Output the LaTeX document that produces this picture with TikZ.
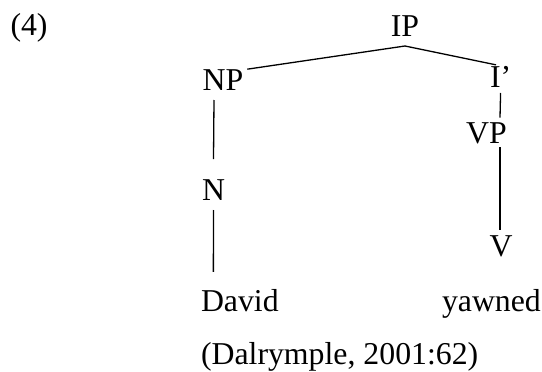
\documentclass[tikz,border=0pt]{standalone}
\usepackage{fontspec}
\setmainfont{Liberation Serif}
\begin{document}
\begin{tikzpicture}[x=1pt,y=-1pt,
  lbl/.style={inner sep=0pt,outer sep=0pt,font=\fontsize{31.8}{38}\selectfont},
  edge/.style={line width=1.3pt}]
\useasboundingbox (0,0) rectangle (542,372);
\node[lbl,anchor=base west] (num) at (10.5,35) {(4)};
\node[lbl,anchor=base] (IP) at (405,37) {IP};
\node[lbl,anchor=base] (NP) at (223,90) {NP};
\node[lbl,anchor=base west] (I1) at (490,88) {I’};
\node[lbl,anchor=base] (VP) at (486.5,143) {VP};
\node[lbl,anchor=base] (N) at (213.5,200) {N};
\node[lbl,anchor=base] (V) at (501,256) {V};
\node[lbl,anchor=base west] (David) at (201,311) {David};
\node[lbl,anchor=base west] (yawned) at (442,311) {yawned};
\node[lbl,anchor=base west] (cite) at (201,364) {(Dalrymple, 2001:62)};
\draw[edge] ([xshift=4pt]NP.north east) -- ([yshift=-9pt]IP.base) -- ([xshift=6pt,yshift=2pt]I1.north west);
\draw[edge] ([xshift=-9pt,yshift=-10pt]NP.base) -- ([yshift=20pt]N.north);
\draw[edge] ([yshift=-10pt]N.base) -- ([xshift=-26.5pt,yshift=17pt]David.north);
\draw[edge] ([yshift=-5pt]I1.base) -- ([xshift=13.5pt,yshift=4.5pt]VP.north);
\draw[edge] ([xshift=13.5pt,yshift=-4pt]VP.base) -- ([xshift=-1pt,yshift=5.5pt]V.north);
\end{tikzpicture}
\end{document}
